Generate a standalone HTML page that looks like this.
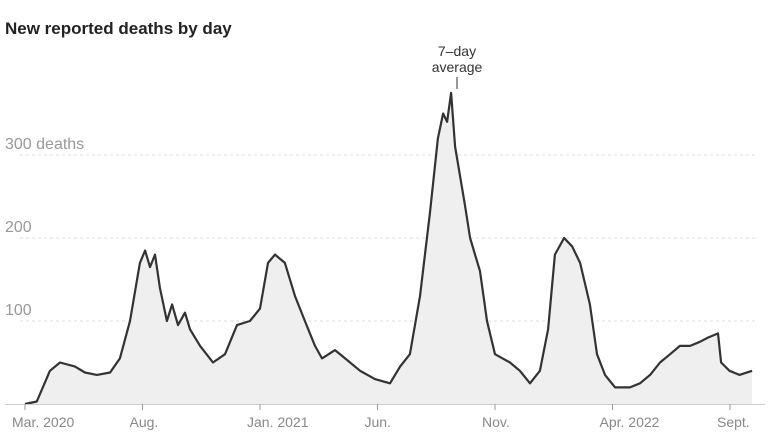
<!DOCTYPE html>
<html><head><meta charset="utf-8"><style>
body{margin:0;background:#fff;font-family:"Liberation Sans",sans-serif}
svg text{font-family:"Liberation Sans",sans-serif}
</style></head><body>
<svg id="chart" width="772" height="442" viewBox="0 0 772 442">
<text x="5" y="34" font-size="17" font-weight="bold" fill="#222">New reported deaths by day</text>
<g id="grid"></g>
<g id="plot"></g>
<g id="xaxis"></g>
<g>
<text x="457" y="56" font-size="14" fill="#333" text-anchor="middle">7–day</text>
<text x="457" y="72" font-size="14" fill="#333" text-anchor="middle">average</text>
<line x1="457" y1="77" x2="457" y2="89" stroke="#333" stroke-width="1"/>
</g>
</svg>
<script>
const months=[0,0.5,1.06,1.49,2.13,2.55,3.06,3.62,4.04,4.47,4.89,5.11,5.32,5.53,5.74,6.04,6.26,6.51,6.81,7.02,7.45,8.0,8.51,9.02,9.57,10.0,10.34,10.64,11.06,11.49,11.91,12.34,12.64,13.19,13.62,14.26,14.89,15.53,15.96,16.38,16.81,17.23,17.57,17.79,17.96,18.13,18.3,18.72,18.94,19.36,19.66,20.0,20.64,21.06,21.49,21.91,22.26,22.55,22.94,23.28,23.62,24.04,24.34,24.68,25.11,25.74,26.17,26.6,27.02,27.45,27.87,28.3,28.72,29.06,29.49,29.62,29.98,30.4,30.94];
const deaths=[0,3,40,50,45,38,35,38,55,100,170,185,165,180,140,100,120,95,110,90,70,50,60,95,100,115,170,180,170,130,100,70,55,65,55,40,30,25,45,60,130,230,320,350,340,375,310,240,200,160,100,60,50,40,25,40,90,180,200,190,170,120,60,35,20,20,25,35,50,60,70,70,75,80,85,50,40,35,40];
const yTicks=[100,200,300];
const xTickLabels=["Mar. 2020","Aug.","Jan. 2021","Jun.","Nov.","Apr. 2022","Sept."];
const xTickMonths=[0,5,10,15,20,25,30];
const X=m=>25+m*23.5, Y=v=>404-v*0.83;
const NS="http://www.w3.org/2000/svg";
function mk(t,a,p){const e=document.createElementNS(NS,t);for(const k in a)e.setAttribute(k,a[k]);p.appendChild(e);return e;}
const grid=document.getElementById('grid'),plot=document.getElementById('plot'),xa=document.getElementById('xaxis');
const bg=mk('rect',{x:20,y:90,width:745,height:0},grid);
yTicks.forEach((v,i)=>{
 const l=mk('line',{x1:20,x2:755,y1:Y(v),y2:Y(v),stroke:'#ddd','stroke-dasharray':'3,3'},grid);
 
 
 const t=mk('text',{x:5,y:Y(v)-6,'font-size':16,fill:'#999'},grid);
 t.textContent=i==yTicks.length-1?v+' deaths':String(v);
 
 
});
let d='M'+X(months[0])+','+Y(0);
months.forEach((m,i)=>{d+=' L'+X(m).toFixed(1)+','+Y(deaths[i]).toFixed(1);});
const area=mk('path',{d:d+' L'+X(months[months.length-1])+','+Y(0)+' Z',fill:'#efefef',stroke:'none'},plot);


const line=mk('path',{d:'M'+months.map((m,i)=>X(m).toFixed(1)+','+Y(deaths[i]).toFixed(1)).join(' L'),fill:'none',stroke:'#333','stroke-width':2.2,'stroke-linejoin':'round'},plot);


const ax=mk('line',{x1:5,x2:765,y1:404.5,y2:404.5,stroke:'#ccc'},xa);


xTickMonths.forEach((m,i)=>{
 mk('line',{x1:X(m),x2:X(m),y1:404,y2:410,stroke:'#999'},xa);
 const t=mk('text',{x:X(m)-13,y:427,'font-size':14,fill:'#888'},xa);
 t.textContent=xTickLabels[i];
 
 
});
</script>
</body></html>
